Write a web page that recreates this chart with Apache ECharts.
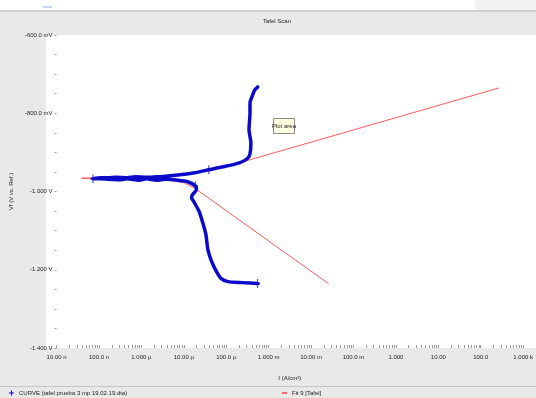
<!DOCTYPE html>
<html>
<head>
<meta charset="utf-8">
<script src="https://cdn.jsdelivr.net/npm/echarts@6/dist/echarts.min.js"></script>
<style>
  html, body { margin: 0; padding: 0; background: #e9e9e9; }
  #chart { width: 536px; height: 398px; }
</style>
</head>
<body>
<div id="chart"></div>
<script>
// Series names shown in the legend
const curveName = 'CURVE (tafel prueba 3 mp 19.02.19.dta)';
const fitName = 'Fit 9 [Tafel]';

// Measured scan: current density (A/cm²) and potential (V vs. Ref.), in scan order
const curveCurrent = [
  5.50e-4, 2.39e-4, 1.10e-4, 7.63e-5, 5.89e-5, 4.54e-5, 3.69e-5, 3.32e-5, 2.84e-5, 2.31e-5,
  1.78e-5, 1.52e-5, 1.60e-5, 1.98e-5, 1.87e-5, 1.24e-5, 7.36e-6, 3.74e-6, 2.23e-6, 1.32e-6,
  8.73e-7, 4.68e-7, 3.09e-7, 1.66e-7, 1.09e-7, 7.21e-8, 1.09e-7, 1.66e-7, 2.51e-7, 4.68e-7,
  7.10e-7, 1.32e-6, 2.23e-6, 3.74e-6, 8.17e-6, 1.78e-5, 3.88e-5, 8.47e-5, 2.05e-4, 3.11e-4,
  3.63e-4, 3.82e-4, 3.44e-4, 3.63e-4, 3.63e-4, 4.03e-4, 4.71e-4, 5.50e-4
];
const curvePotential = [
  -1.2354, -1.2329, -1.2303, -1.2227, -1.2048, -1.1793, -1.1487, -1.1104, -1.0823, -1.0517,
  -1.0287, -1.0160, -1.0083, -0.9956, -0.9854, -0.9751, -0.9713, -0.9688, -0.9713, -0.9675,
  -0.9713, -0.9675, -0.9700, -0.9688, -0.9675, -0.9675, -0.9649, -0.9649, -0.9637, -0.9649,
  -0.9624, -0.9637, -0.9624, -0.9611, -0.9573, -0.9522, -0.9445, -0.9369, -0.9267, -0.9164,
  -0.9037, -0.8756, -0.8424, -0.7991, -0.7735, -0.7582, -0.7404, -0.7327
];
// Points of the scan drawn with a "+" marker
const curveMarkers = [0, 14, 25, 36];

// Tafel fit curve: current density (A/cm²) and potential (V)
const fitCurrent = [0.0258, 6.8e-4, 1.9e-5, 1.0e-5, 3.0e-6, 5.0e-7, 3.9e-8, 5.0e-7, 5.5e-6, 3.7e-5, 2.05e-4, 269];
const fitPotential = [-1.2355, -1.1135, -0.993, -0.977, -0.969, -0.9665, -0.966, -0.9655, -0.961, -0.946, -0.9267, -0.7353];

// Axis tick labels
const xTickLabels = ['10.00 n', '100.0 n', '1.000 µ', '10.00 µ', '100.0 µ', '1.000 m',
                     '10.00 m', '100.0 m', '1.000', '10.00', '100.0', '1.000 k'];
const yTickLabels = ['-1.400 V', '-1.200 V', '-1.000 V', '-800.0 mV', '-600.0 mV'];

const FONT = "'Liberation Sans Narrow', 'Liberation Sans', Arial, sans-serif";
const TEXT = '#222';
const BLUE = '#0a0ac8';
const RED = '#ff3c3c';
const PLUS = 'path://M4,0H6V10H4Z M0,4H10V6H0Z';

const X_MIN = -8, X_MAX = 3;
const Y_MIN = -1.4, Y_MAX = -0.6, Y_LABEL_STEP = 0.2;

// Log-scale positions: decades plus 2..9 minor ticks
const xTickValues = [];
for (let d = X_MIN; d < X_MAX; d++) {
  for (let k = 1; k <= 9; k++) xTickValues.push(d + Math.log10(k));
}
xTickValues.push(X_MAX);

const curveData = curveCurrent.map((c, i) => [Math.log10(c), curvePotential[i]]);
const markerData = curveMarkers.map(i => curveData[i]);
const fitData = fitCurrent.map((c, i) => [Math.log10(c), fitPotential[i]]);

function yLabel(v) {
  const k = (v - Y_MIN) / Y_LABEL_STEP;
  const r = Math.round(k);
  return Math.abs(k - r) < 1e-6 ? yTickLabels[r] : '';
}

const chart = echarts.init(document.getElementById('chart'), null, { renderer: 'canvas' });

chart.setOption({
  backgroundColor: '#e9e9e9',
  animation: false,
  textStyle: { fontFamily: FONT },
  title: {
    text: 'Tafel Scan',
    left: 263,
    top: 18,
    padding: 0,
    textStyle: { fontFamily: FONT, fontSize: 6, fontWeight: 'normal', color: TEXT }
  },
  grid: { left: 46, top: 35, right: 3, bottom: 50 },
  xAxis: {
    type: 'value',
    min: X_MIN,
    max: X_MAX,
    interval: 1,
    name: 'I (A/cm²)',
    nameLocation: 'middle',
    nameGap: 27,
    nameTextStyle: { fontFamily: FONT, fontSize: 6, color: TEXT },
    axisLine: { show: false, onZero: false },
    axisTick: {
      show: true, inside: true, length: 3,
      customValues: xTickValues,
      lineStyle: { color: '#9a9a9a', width: 1 }
    },
    axisLabel: {
      margin: 6,
      fontFamily: FONT, fontSize: 6, color: TEXT,
      formatter: v => xTickLabels[Math.round(v - X_MIN)]
    },
    splitLine: { show: false }
  },
  yAxis: {
    type: 'value',
    min: Y_MIN,
    max: Y_MAX,
    interval: 0.05,
    name: 'Vf (V vs. Ref.)',
    nameLocation: 'middle',
    nameGap: 34,
    nameTextStyle: { fontFamily: FONT, fontSize: 6, color: TEXT },
    axisLine: { show: false, onZero: false },
    axisTick: { show: true, length: 2, lineStyle: { color: '#9a9a9a' } },
    axisLabel: {
      margin: 4,
      fontFamily: FONT, fontSize: 6, color: TEXT,
      formatter: yLabel
    },
    splitLine: { show: false }
  },
  legend: [
    {
      left: 9, top: 390, padding: 0,
      itemWidth: 5, itemHeight: 6,
      data: [{ name: curveName, icon: PLUS }],
      textStyle: { fontFamily: FONT, fontSize: 6, color: TEXT }
    },
    {
      left: 282, top: 390, padding: 0,
      itemWidth: 5, itemHeight: 1.5,
      data: [{ name: fitName, icon: 'rect' }],
      textStyle: { fontFamily: FONT, fontSize: 6, color: TEXT }
    }
  ],
  graphic: [
    // toolbar strip and separators around the chart frame
    { type: 'rect', z: -10, shape: { x: 0, y: 0, width: 536, height: 10 }, style: { fill: '#ffffff' } },
    { type: 'rect', z: -9, shape: { x: 475, y: 0, width: 61, height: 10 }, style: { fill: '#f2f2f2' } },
    { type: 'line', z: -9, shape: { x1: 43, y1: 7, x2: 52, y2: 7 }, style: { stroke: '#8fb0dc', lineWidth: 1 } },
    { type: 'rect', z: -9, shape: { x: 0, y: 10, width: 536, height: 2 }, style: { fill: '#cfcfcf' } },
    { type: 'line', z: -9, shape: { x1: 0, y1: 386.5, x2: 536, y2: 386.5 }, style: { stroke: '#c4c4c4', lineWidth: 1 } },
    // white plotting area
    { type: 'rect', z: -5, shape: { x: 46, y: 35, width: 490, height: 313 }, style: { fill: '#ffffff' } },
    // "Plot area" hover note
    {
      type: 'group', left: 272, top: 118, z: 100,
      children: [
        { type: 'rect', shape: { x: 0, y: 0, width: 21, height: 15 }, style: { fill: '#ffffe1', stroke: '#8c8c8c', lineWidth: 1 } },
        { type: 'text', x: 10.5, y: 7.5, style: { text: 'Plot area', fontFamily: FONT, fontSize: 6, fill: TEXT, align: 'center', verticalAlign: 'middle' } }
      ]
    }
  ],
  series: [
    {
      name: fitName,
      type: 'line',
      data: fitData,
      showSymbol: false,
      symbol: 'none',
      lineStyle: { color: RED, width: 1, opacity: 0.85 },
      itemStyle: { color: RED },
      z: 1
    },
    {
      name: curveName,
      type: 'line',
      data: curveData,
      showSymbol: false,
      symbol: 'none',
      smooth: 0.2,
      lineStyle: { color: BLUE, width: 3.5, join: 'round', cap: 'round' },
      itemStyle: { color: BLUE },
      z: 2
    },
    {
      name: curveName,
      type: 'scatter',
      data: markerData,
      symbol: PLUS,
      symbolSize: [5, 9],
      itemStyle: { color: BLUE },
      z: 3
    }
  ]
});
</script>
</body>
</html>
